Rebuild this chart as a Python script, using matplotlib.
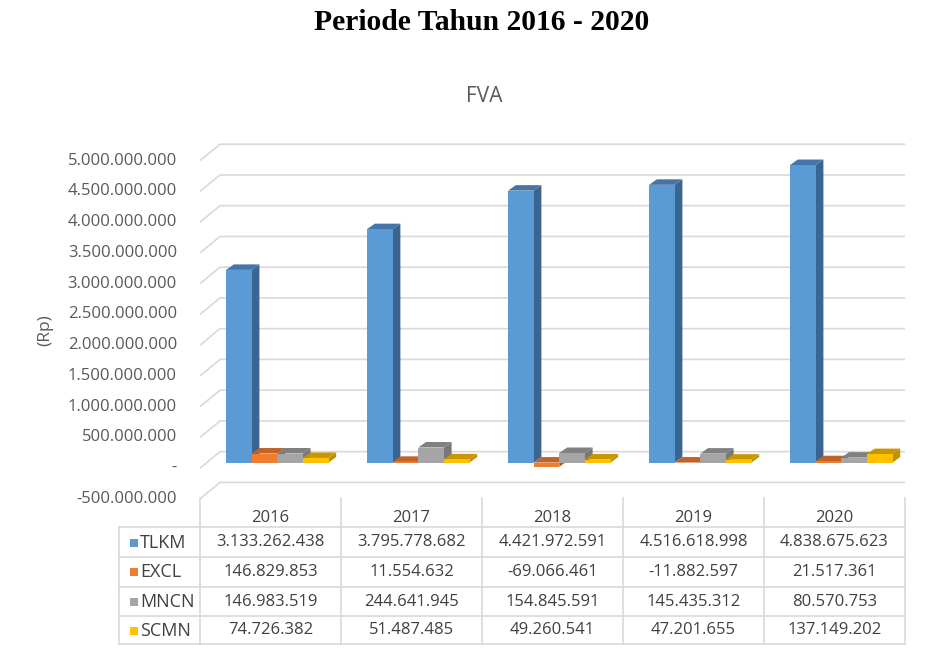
import matplotlib
matplotlib.use('Agg')
import matplotlib.pyplot as plt
from matplotlib.patches import Polygon, Rectangle
from matplotlib.lines import Line2D
import matplotlib.transforms as mtransforms

# ---------------- data ----------------
years = ['2016', '2017', '2018', '2019', '2020']
series = ['TLKM', 'EXCL', 'MNCN', 'SCMN']
tlkm = [3133262438, 3795778682, 4421972591, 4516618998, 4838675623]
excl = [146829853, 11554632, -69066461, -11882597, 21517361]
mncn = [146983519, 244641945, 154845591, 145435312, 80570753]
scmn = [74726382, 51487485, 49260541, 47201655, 137149202]
ytick_values = [-500000000, 0, 500000000, 1000000000, 1500000000, 2000000000,
                2500000000, 3000000000, 3500000000, 4000000000, 4500000000, 5000000000]
ytick_labels = ['-500.000.000', '-', '500.000.000', '1.000.000.000', '1.500.000.000',
                '2.000.000.000', '2.500.000.000', '3.000.000.000', '3.500.000.000',
                '4.000.000.000', '4.500.000.000', '5.000.000.000']

values = [tlkm, excl, mncn, scmn]
front_colors = ['#5B9BD5', '#ED7D31', '#A5A5A5', '#FFC000']
top_colors = ['#4674A6', '#C0632A', '#808080', '#C79600']
side_colors = ['#3A6590', '#B35A1F', '#787878', '#BF9000']

def fmt(v):
    return f"{v:,}".replace(',', '.')

# ---------------- figure ----------------
W, H = 952, 654
fig = plt.figure(figsize=(W / 100, H / 100), dpi=100)
fig.patch.set_facecolor('white')
FONT = 'Open Sans'
FS = 12

def fx(x):
    return x / W

def fy(y):
    return 1 - y / H

ax_left, ax_right, ax_top, ax_bot = 200, 905, 160.7, 498.9
ax = fig.add_axes([fx(ax_left), fy(ax_bot), fx(ax_right) - fx(ax_left), fy(ax_top) - fy(ax_bot)])
ax.set_xlim(-0.5, 4.5)
ax.set_ylim(-5e8, 5e9)
ax.axis('off')

sx = 5.0 / (ax_right - ax_left)          # data units per pixel (x)
sy = 5.5e9 / (ax_bot - ax_top)           # data units per pixel (y)

# back wall offset
bx, by = 20 * sx, 16.5 * sy
grid_c = '#D9D9D9'
for v in ytick_values:
    ax.plot([-0.5, -0.5 + bx, 4.5], [v, v + by, v + by], color=grid_c, lw=1.2,
            clip_on=False, zorder=1, solid_capstyle='butt')

# tick labels
for v, lab in zip(ytick_values, ytick_labels):
    ax.text(-0.5 - 23 * sx, v, lab, ha='right', va='center', fontsize=FS,
            color='#595959', family=FONT)

# bars
w = 25.6 / 141
fox, foy = 6.8 * sx, 5.6 * sy
dx, dy = 7.7 * sx, 5.5 * sy
for j in range(len(years)):
    for i, vals in enumerate(values):
        v = vals[j]
        lo, hi = min(v, 0), max(v, 0)
        x0 = j + (i - 2) * w + fox
        x1 = x0 + w
        lo_, hi_ = lo + foy, hi + foy
        z = 3 + i
        side = Polygon([(x1, lo_), (x1 + dx, lo_ + dy), (x1 + dx, hi_ + dy), (x1, hi_)],
                       closed=True, fc=side_colors[i], ec='none', zorder=z, clip_on=False)
        top = Polygon([(x0, hi_), (x1, hi_), (x1 + dx, hi_ + dy), (x0 + dx, hi_ + dy)],
                      closed=True, fc=top_colors[i], ec='none', zorder=z, clip_on=False)
        front = Rectangle((x0, lo_), w, hi - lo, fc=front_colors[i], ec='none',
                          zorder=z, clip_on=False)
        ax.add_patch(side)
        ax.add_patch(top)
        ax.add_patch(front)

# ---------------- texts ----------------
fig.text(fx(481.5), fy(22.5), 'Periode Tahun 2016 - 2020', ha='center', va='center',
         fontsize=21.3, fontweight='bold', family='Liberation Serif', color='black')
fig.text(fx(484.7), fy(96.7), 'FVA', ha='center', va='center', fontsize=15,
         color='#595959', family=FONT)
fig.text(fx(45), fy(330), '(Rp)', ha='center', va='center', rotation=90, fontsize=12.5,
         color='#595959', family=FONT)

# ---------------- data table ----------------
blend = mtransforms.blended_transform_factory(ax.transData, fig.transFigure)
row_lines = [527.3, 556.7, 586.7, 615.5, 644.0]
row_centers = [542.5, 572.0, 601.7, 630.5]
header_y = 517.5
tcol = '#404040'
line_c = '#D9D9D9'
tab_left = 119

# vertical column separators
for k in range(len(years) + 1):
    xk = -0.5 + k
    fig.add_artist(Line2D([xk, xk], [fy(498), fy(row_lines[-1])], transform=blend,
                          color=line_c, lw=1.2))
# horizontal lines
for yl in row_lines:
    fig.add_artist(Line2D([fx(tab_left), fx(905)], [fy(yl), fy(yl)], color=line_c, lw=1.2))
fig.add_artist(Line2D([fx(tab_left), fx(tab_left)], [fy(row_lines[0]), fy(row_lines[-1])],
                      color=line_c, lw=1.2))

for j, yr in enumerate(years):
    fig.text(j, fy(header_y), yr, transform=blend, ha='center', va='center',
             fontsize=FS, color=tcol, family=FONT)
    for i, vals in enumerate(values):
        fig.text(j, fy(row_centers[i]), fmt(vals[j]), transform=blend, ha='center',
                 va='center', fontsize=FS, color=tcol, family=FONT)

for i, name in enumerate(series):
    yc = row_centers[i]
    fig.add_artist(Rectangle((fx(130), fy(yc + 4)), fx(8), 8 / H,
                             transform=fig.transFigure, fc=front_colors[i], ec='none'))
    fig.text(fx(140), fy(yc), name, ha='left', va='center', fontsize=13,
             color=tcol, family=FONT)

fig.savefig('out.png', dpi=100, facecolor='white')
